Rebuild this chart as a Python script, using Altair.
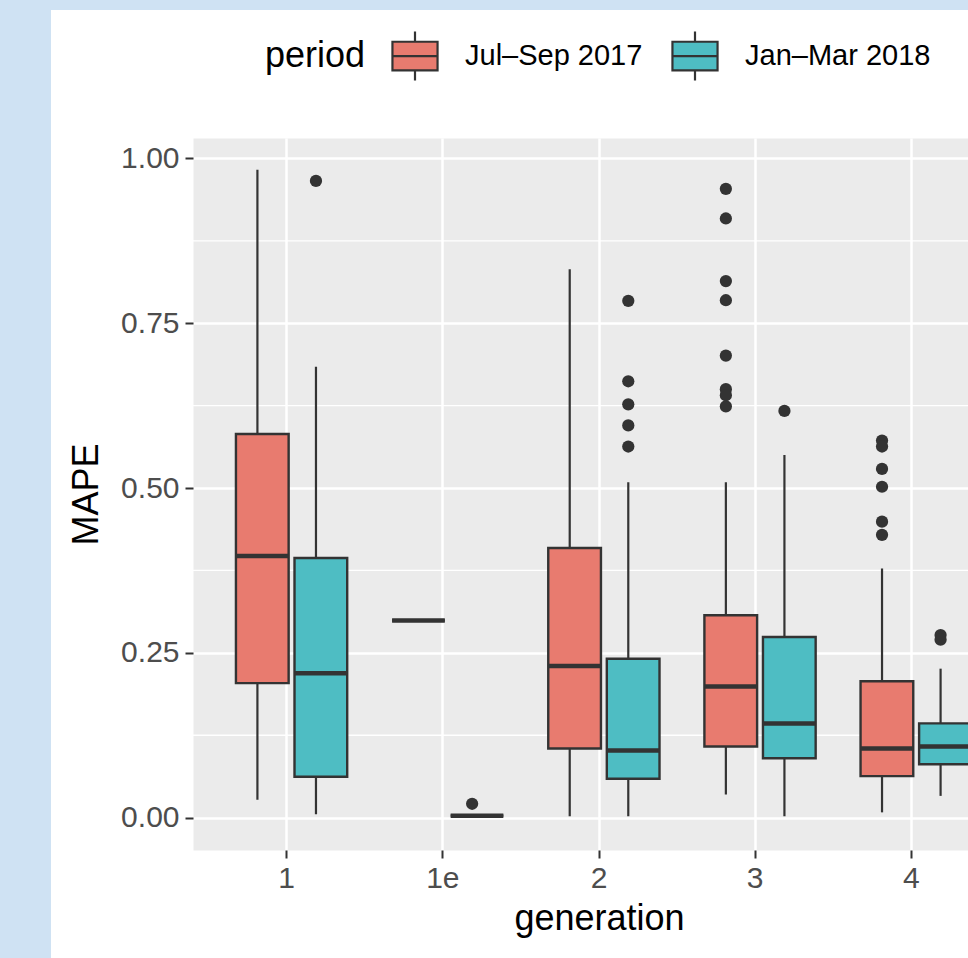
import altair as alt
import pandas as pd

# ---------------- data ----------------
generations = ["1", "1e", "2", "3", "4"]
periods = ["Jul–Sep 2017", "Jan–Mar 2018"]
period_colors = ["#E87B6F", "#4EBDC3"]

box_generation = ["1", "1", "1e", "1e", "2", "2", "3", "3", "4", "4"]
box_period = periods * 5
whisker_low = [0.027, 0.005, 0.299, 0.003, 0.002, 0.002, 0.035, 0.002, 0.008, 0.033]
q1 = [0.204, 0.062, 0.299, 0.003, 0.105, 0.059, 0.108, 0.090, 0.063, 0.081]
median = [0.397, 0.219, 0.299, 0.003, 0.230, 0.102, 0.199, 0.143, 0.105, 0.108]
q3 = [0.582, 0.394, 0.299, 0.003, 0.409, 0.241, 0.307, 0.274, 0.207, 0.143]
whisker_high = [0.983, 0.684, 0.299, 0.003, 0.832, 0.509, 0.509, 0.550, 0.378, 0.226]

outlier_generation = ["1", "1e",
                      "2", "2", "2", "2", "2",
                      "3", "3", "3", "3", "3", "3", "3", "3",
                      "3",
                      "4", "4", "4", "4", "4", "4",
                      "4", "4"]
outlier_period = [periods[1], periods[1],
                  periods[1], periods[1], periods[1], periods[1], periods[1],
                  periods[0], periods[0], periods[0], periods[0], periods[0], periods[0], periods[0], periods[0],
                  periods[1],
                  periods[0], periods[0], periods[0], periods[0], periods[0], periods[0],
                  periods[1], periods[1]]
outlier_value = [0.966, 0.021,
                 0.784, 0.662, 0.627, 0.595, 0.563,
                 0.954, 0.909, 0.814, 0.785, 0.701, 0.650, 0.641, 0.624,
                 0.617,
                 0.572, 0.563, 0.529, 0.502, 0.449, 0.429,
                 0.277, 0.270]

y_ticks = [0.0, 0.25, 0.5, 0.75, 1.0]
y_minor = [0.125, 0.375, 0.625, 0.875]
y_domain = [-0.0491, 1.0311]

# ---------------- tables ----------------
boxes = pd.DataFrame({
    "generation": box_generation, "period": box_period,
    "lo": whisker_low, "q1": q1, "median": median, "q3": q3, "hi": whisker_high,
})
outliers = pd.DataFrame({
    "generation": outlier_generation, "period": outlier_period, "MAPE": outlier_value,
})
minor = pd.DataFrame({"v": y_minor})

FONT = "Liberation Sans"
LINE = "#333333"
W, H = 775, 712

x_enc = alt.X(
    "generation:N",
    scale=alt.Scale(domain=generations, range=[0, 812], paddingInner=0, paddingOuter=0.1),
    axis=alt.Axis(title="generation", labelAngle=0, bandPosition=0.5, domain=False,
                  grid=True, gridColor="white", gridWidth=2.5,
                  tickColor=LINE, tickSize=8, tickWidth=2,
                  labelFont=FONT, labelFontSize=30, labelColor="#4d4d4d", labelPadding=5,
                  titleFont=FONT, titleFontSize=36, titleFontWeight="normal",
                  titleColor="black", titlePadding=8),
)
xo_enc = alt.XOffset("period:N", scale=alt.Scale(domain=periods, paddingInner=0, paddingOuter=1 / 3))
y_scale = alt.Scale(domain=y_domain, nice=False, zero=False)
y_axis = alt.Axis(title="MAPE", values=y_ticks, format=".2f", domain=False,
                  grid=True, gridColor="white", gridWidth=2.5,
                  tickColor=LINE, tickSize=8, tickWidth=2,
                  labelFont=FONT, labelFontSize=30, labelColor="#4d4d4d", labelPadding=6,
                  titleFont=FONT, titleFontSize=36, titleFontWeight="normal",
                  titleColor="black", titlePadding=15)

legend_symbol = "M-0.82,-0.52H0.82V0.52H-0.82Z M0,-0.52V-0.89 M0,0.52V0.89 M-0.82,0H0.82"

# page decoration: light-blue strips at left and top
one = alt.Data(values=[{"k": 1}])
strip_left = alt.Chart(one).mark_rect(color="#cfe2f3").encode(
    x=alt.value(-193), x2=alt.value(-142), y=alt.value(-138), y2=alt.value(H + 108))
strip_top = alt.Chart(one).mark_rect(color="#cfe2f3").encode(
    x=alt.value(-193), x2=alt.value(W), y=alt.value(-138), y2=alt.value(-128))

minor_grid = alt.Chart(minor).mark_rule(color="white", strokeWidth=1.3).encode(
    y=alt.Y("v:Q", scale=y_scale, axis=y_axis))

whiskers = alt.Chart(boxes).mark_rule(color=LINE, strokeWidth=2.2, clip=True).encode(
    x=x_enc, xOffset=xo_enc,
    y=alt.Y("lo:Q", scale=y_scale, axis=y_axis), y2="hi:Q")

box = alt.Chart(boxes).mark_bar(
    width=alt.RelativeBandSize(0.9), stroke=LINE, strokeWidth=2.4, clip=True, opacity=1
).encode(
    x=x_enc, xOffset=xo_enc,
    y=alt.Y("q1:Q", scale=y_scale, axis=y_axis), y2="q3:Q",
    fill=alt.Fill("period:N", scale=alt.Scale(domain=periods, range=period_colors),
                  legend=alt.Legend(
                      title="period", orient="none", legendX=72, legendY=-111,
                      direction="horizontal", titleOrient="left",
                      titleFont=FONT, titleFontSize=36, titleFontWeight="normal",
                      titleColor="black", titlePadding=20, titleBaseline="middle",
                      labelFont=FONT, labelFontSize=29, labelColor="black",
                      labelLimit=400, labelOffset=21, columnPadding=23,
                      symbolType=legend_symbol, symbolSize=3025,
                      symbolStrokeColor=LINE, symbolStrokeWidth=2.2, symbolOpacity=1)),
)

med = alt.Chart(boxes).mark_bar(
    width=alt.RelativeBandSize(0.9), color=LINE, stroke=LINE, strokeWidth=4.5, clip=True
).encode(
    x=x_enc, xOffset=xo_enc,
    y=alt.Y("median:Q", scale=y_scale, axis=y_axis), y2="median:Q")

points = alt.Chart(outliers).mark_circle(color=LINE, size=150, opacity=1, clip=True).encode(
    x=x_enc, xOffset=xo_enc,
    y=alt.Y("MAPE:Q", scale=y_scale, axis=y_axis))

chart = alt.layer(
    strip_left, strip_top, minor_grid, whiskers, box, med, points
).properties(
    width=W, height=H,
    autosize=alt.AutoSizeParams(type="none"),
    padding={"left": 193, "top": 138, "right": 0, "bottom": 108},
    background="white",
).configure_view(
    fill="#ebebeb", stroke="transparent"
)

chart.save("out.html", embed_options={"renderer": "svg", "actions": False})
